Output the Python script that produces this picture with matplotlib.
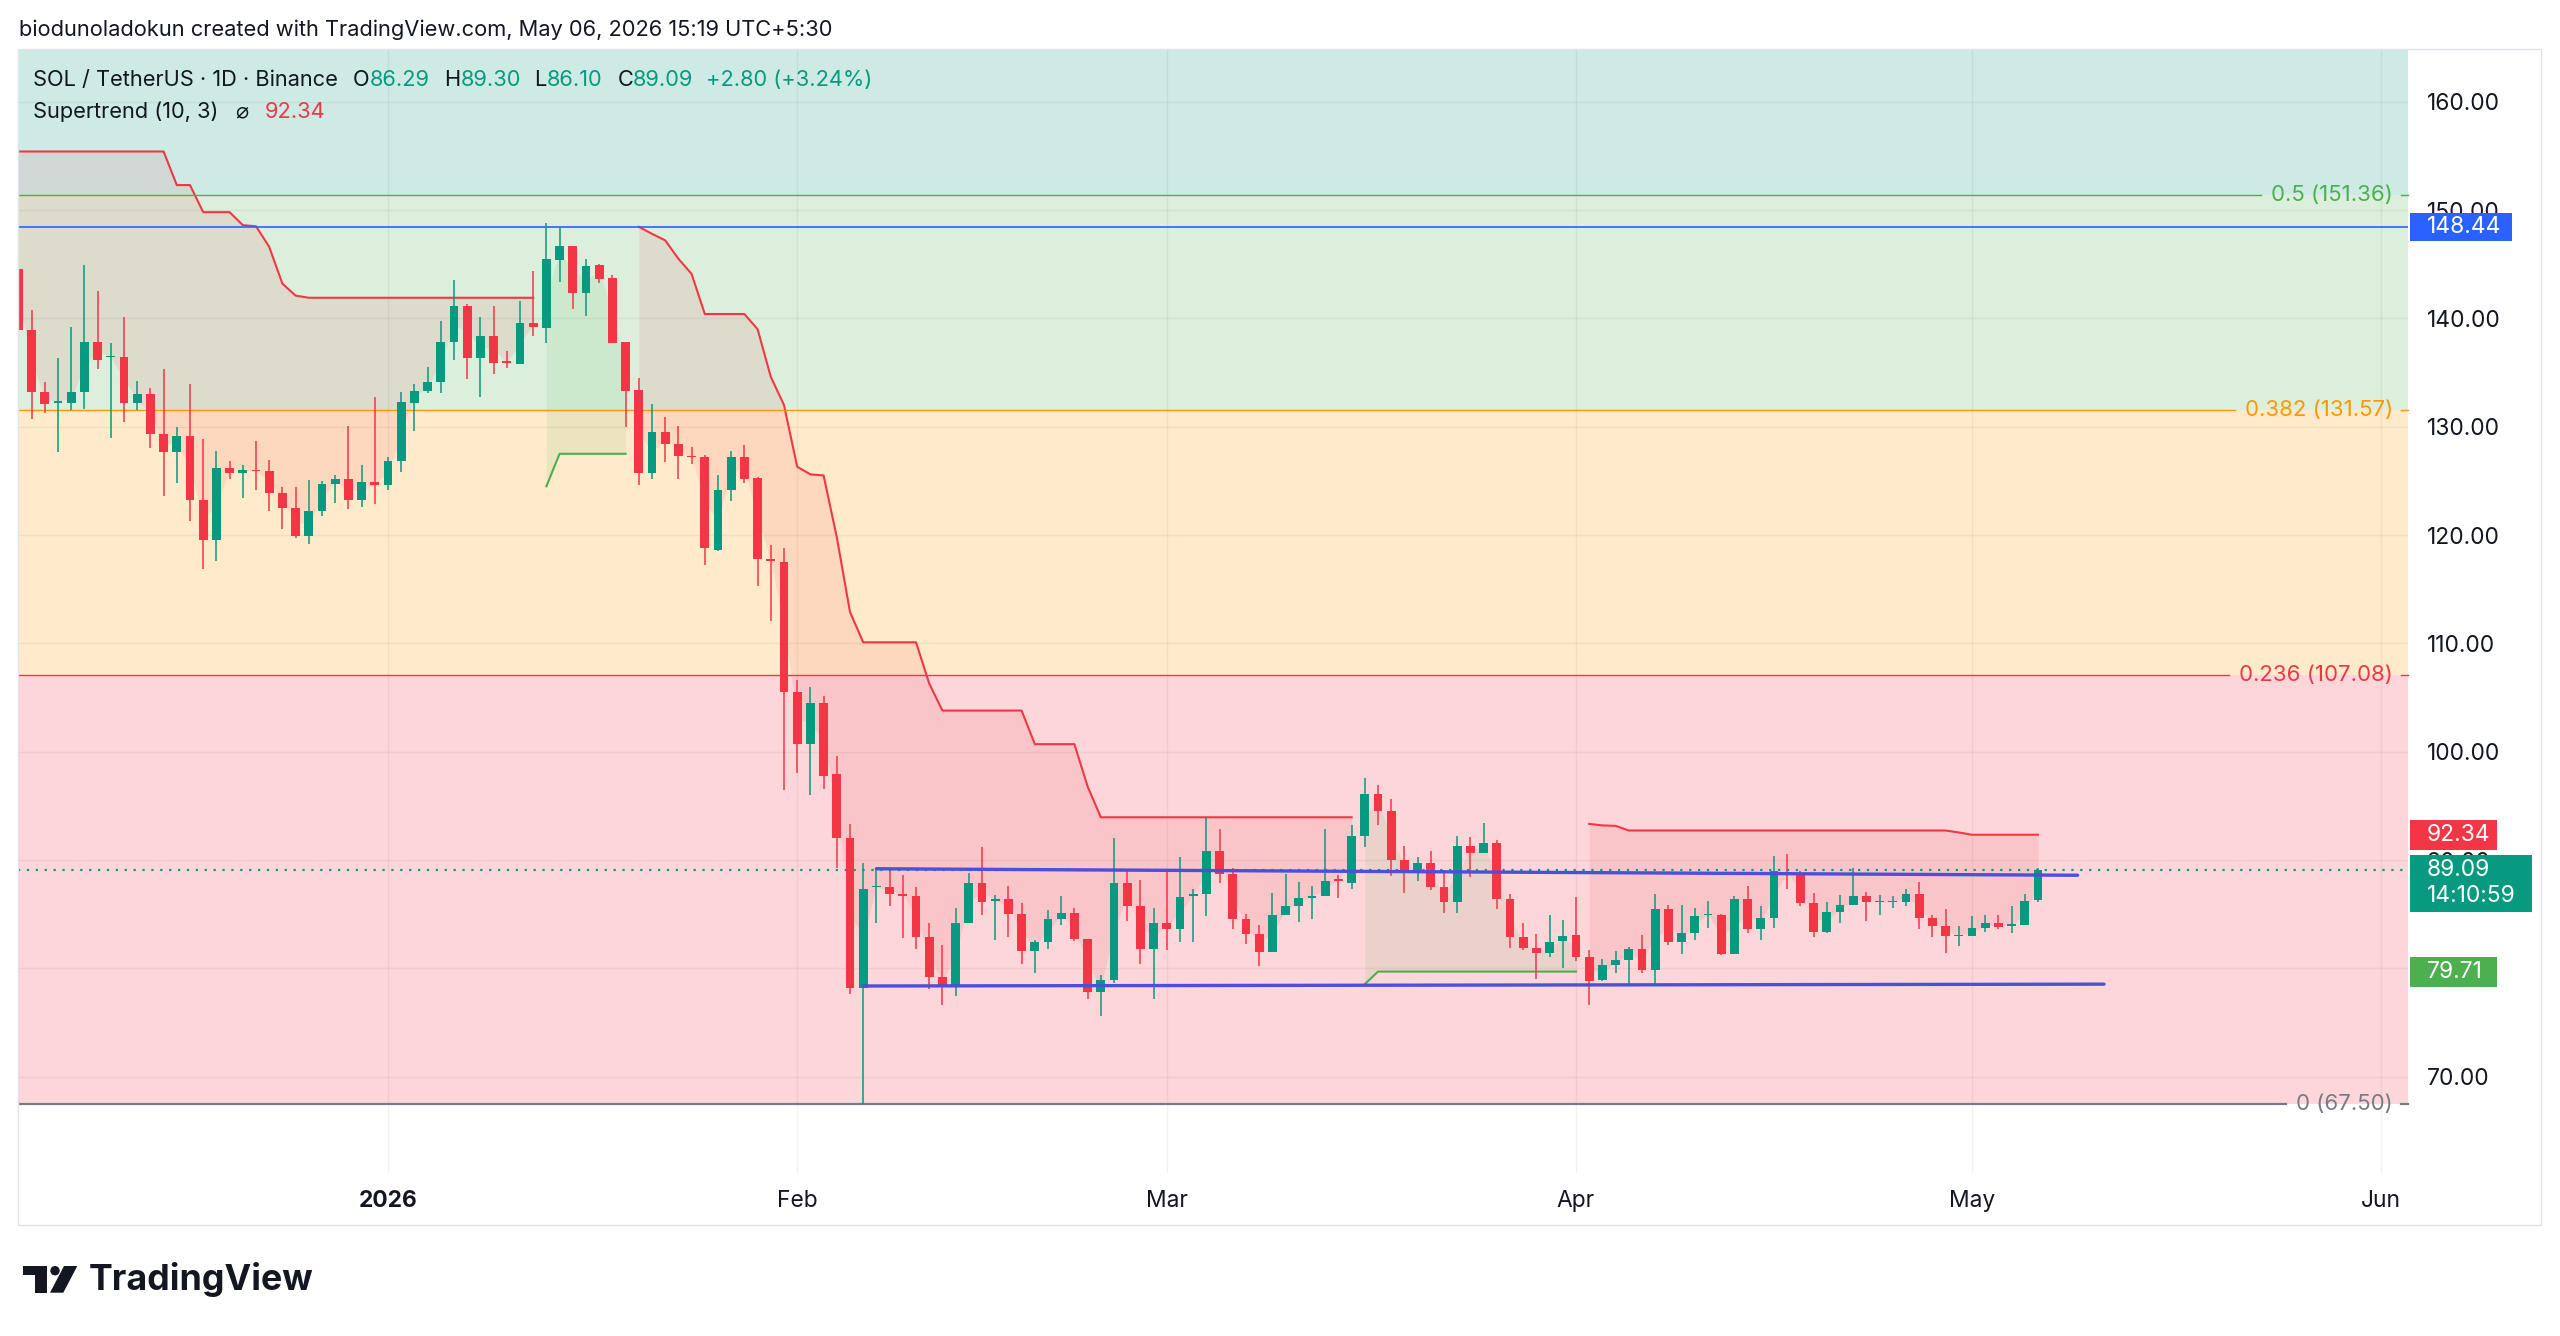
"""
SOL / USDT diario (Binance) con Supertrend (10, 3), retroceso de Fibonacci
y canal lateral: réplica de una captura de TradingView.
"""
import numpy as np
import pandas as pd
import matplotlib
matplotlib.use('Agg')
import matplotlib.pyplot as plt
import matplotlib.dates as mdates
import matplotlib.transforms as mtrans
from matplotlib.patches import Rectangle, Polygon, Circle

plt.rcParams['font.family'] = ['Inter', 'DejaVu Sans']

W, H = 2560, 1336

# ── Velas diarias ─────────────────────────────────────────────
FIRST_DAY = '2025-12-04'
OPEN = [
    144.6, 138.9, 133.2, 132.2, 132.2, 133.2, 137.8, 136.4, 136.4, 132.2,
    133.0, 129.3, 127.7, 129.1, 123.2, 119.5, 126.2, 125.7, 126.0, 125.9,
    123.9, 122.5, 119.9, 122.2, 124.7, 125.2, 123.2, 124.9, 124.6, 126.8,
    132.2, 133.3, 134.1, 137.8, 141.1, 136.3, 138.4, 136.0, 135.8, 139.6,
    139.1, 145.4, 146.7, 142.3, 144.9, 143.7, 137.8, 133.4, 125.7, 129.5,
    128.4, 127.3, 127.2, 118.6, 124.2, 127.2, 125.3, 117.8, 117.5, 105.5,
    100.7, 104.5, 97.9, 92.0, 78.2, 87.5, 87.5, 86.9, 86.7, 82.9,
    79.2, 78.4, 84.2, 87.9, 86.2, 86.4, 85.0, 81.6, 82.4, 84.6,
    85.1, 82.7, 77.8, 78.9, 87.9, 85.8, 81.8, 84.2, 83.6, 86.7,
    86.9, 90.8, 88.7, 84.6, 83.2, 81.5, 84.9, 85.8, 86.5, 86.7,
    88.2, 87.9, 92.2, 96.1, 94.5, 90.0, 88.8, 89.7, 87.5, 86.1,
    91.3, 90.7, 91.6, 86.4, 82.9, 81.9, 81.4, 82.5, 83.1, 81.1,
    78.9, 80.3, 80.8, 81.8, 79.9, 85.5, 82.4, 83.3, 84.9, 84.9,
    81.3, 86.4, 83.6, 84.7, 88.9, 88.8, 86.0, 83.4, 85.2, 85.9,
    86.7, 86.1, 86.1, 86.1, 86.9, 84.7, 83.9, 83.0, 83.0, 83.7,
    84.2, 83.9, 84.0, 86.29,
]
HIGH = [
    146.9, 140.8, 134.1, 136.3, 139.2, 144.9, 142.5, 137.7, 140.1, 134.2,
    133.6, 135.3, 130.0, 133.9, 128.9, 127.8, 126.8, 126.5, 128.7, 126.9,
    124.4, 124.4, 125.1, 125.0, 125.5, 130.1, 126.5, 132.7, 127.2, 133.2,
    133.9, 135.5, 139.8, 143.5, 141.3, 140.1, 141.1, 137.0, 141.6, 144.4,
    148.8, 148.4, 146.7, 145.5, 145.0, 144.0, 137.8, 134.5, 132.1, 130.9,
    130.1, 128.1, 127.4, 125.5, 127.8, 128.3, 125.4, 119.1, 118.8, 106.6,
    106.0, 105.1, 99.6, 93.3, 89.7, 89.3, 89.0, 88.6, 87.5, 84.2,
    82.2, 85.6, 88.8, 91.2, 86.8, 87.6, 86.0, 82.6, 85.4, 86.7,
    85.6, 82.7, 79.4, 92.0, 89.2, 88.2, 85.6, 88.9, 90.3, 87.3,
    93.9, 92.9, 89.3, 85.0, 84.0, 87.0, 88.7, 88.0, 87.6, 92.9,
    88.6, 93.2, 97.6, 96.9, 95.6, 91.3, 90.3, 90.8, 89.1, 92.2,
    92.1, 93.4, 91.9, 86.9, 84.2, 83.2, 84.9, 84.5, 86.6, 81.7,
    80.9, 81.6, 82.0, 83.1, 86.9, 85.9, 85.9, 85.6, 86.2, 85.0,
    86.7, 87.6, 85.8, 90.4, 90.6, 89.0, 87.0, 86.1, 86.8, 89.3,
    87.1, 86.8, 86.7, 87.3, 88.0, 84.9, 85.5, 83.9, 84.8, 84.9,
    84.9, 85.8, 86.9, 89.30,
]
LOW = [
    137.8, 130.7, 131.3, 127.7, 131.5, 131.6, 135.3, 129.0, 130.4, 131.5,
    128.0, 123.6, 124.8, 121.3, 116.9, 117.6, 125.2, 123.4, 124.2, 122.2,
    120.6, 119.7, 119.2, 121.8, 123.0, 122.4, 122.6, 122.9, 124.2, 125.8,
    129.6, 133.1, 133.1, 136.2, 134.4, 132.7, 134.9, 135.4, 135.8, 138.4,
    137.7, 143.4, 140.9, 140.2, 143.3, 137.7, 130.0, 124.6, 125.2, 126.7,
    125.2, 126.6, 117.2, 118.5, 123.1, 124.8, 115.3, 112.1, 96.5, 98.0,
    96.0, 96.6, 89.3, 77.6, 67.5, 84.2, 85.8, 82.8, 81.8, 78.1,
    76.6, 77.5, 84.2, 84.9, 82.6, 82.9, 80.4, 79.6, 81.8, 84.0,
    82.5, 77.2, 75.6, 78.7, 84.4, 80.4, 77.2, 81.7, 82.4, 82.4,
    84.8, 87.9, 83.6, 82.3, 80.2, 81.5, 84.9, 84.3, 84.6, 86.7,
    86.5, 87.3, 91.2, 93.2, 88.5, 87.0, 88.1, 87.2, 85.1, 85.1,
    88.4, 90.7, 85.5, 81.9, 81.7, 79.0, 81.1, 80.0, 80.7, 76.6,
    78.8, 79.6, 78.4, 79.6, 78.4, 82.2, 81.3, 82.6, 83.7, 81.2,
    81.3, 83.3, 82.6, 83.7, 87.3, 85.8, 82.9, 83.3, 84.2, 85.9,
    84.4, 84.9, 85.6, 85.8, 83.6, 82.9, 81.4, 82.1, 83.0, 83.4,
    83.6, 83.3, 84.0, 86.10,
]
CLOSE = [
    138.9, 133.2, 132.1, 132.4, 133.2, 137.8, 136.2, 136.5, 132.2, 133.0,
    129.3, 127.7, 129.1, 123.2, 119.5, 126.2, 125.7, 126.0, 125.9, 123.9,
    122.5, 119.9, 122.2, 124.7, 125.2, 123.2, 124.9, 124.6, 126.8, 132.3,
    133.3, 134.1, 137.8, 141.1, 136.3, 138.4, 135.9, 135.9, 139.6, 139.2,
    145.5, 146.7, 142.3, 144.8, 143.6, 137.7, 133.3, 125.7, 129.5, 128.4,
    127.3, 127.2, 118.8, 124.2, 127.2, 125.2, 117.8, 117.6, 105.5, 100.7,
    104.5, 97.8, 92.0, 78.2, 87.3, 87.6, 86.9, 86.7, 82.9, 79.2,
    78.4, 84.2, 87.9, 86.1, 86.4, 85.0, 81.6, 82.4, 84.6, 85.1,
    82.7, 77.8, 78.9, 87.9, 85.8, 81.8, 84.2, 83.6, 86.6, 86.9,
    90.8, 88.7, 84.6, 83.2, 81.5, 84.9, 85.8, 86.5, 86.7, 88.1,
    88.1, 92.2, 96.1, 94.5, 90.0, 88.8, 89.7, 87.5, 86.1, 91.3,
    90.7, 91.6, 86.4, 82.9, 81.9, 81.4, 82.4, 83.0, 81.1, 78.8,
    80.3, 80.8, 81.8, 79.9, 85.5, 82.4, 83.3, 84.8, 85.0, 81.3,
    86.4, 83.6, 84.7, 89.0, 88.6, 86.0, 83.4, 85.2, 85.9, 86.7,
    86.1, 86.2, 86.2, 86.9, 84.7, 83.9, 83.0, 83.1, 83.7, 84.2,
    83.8, 84.1, 86.2, 89.09,
]

# Supertrend (10, 3) por vela, y tramos de tendencia (índice inicial, final, sentido)
SUPERTREND = [
    155.4, 155.4, 155.4, 155.4, 155.4, 155.4, 155.4, 155.4, 155.4, 155.4,
    155.4, 155.4, 152.3, 152.3, 149.8, 149.8, 149.8, 148.6, 148.5, 146.6,
    143.2, 142.1, 141.9, 141.9, 141.9, 141.9, 141.9, 141.9, 141.9, 141.9,
    141.9, 141.9, 141.9, 141.9, 141.9, 141.9, 141.9, 141.9, 141.9, 141.9,
    124.5, 127.5, 127.5, 127.5, 127.5, 127.5, 127.5, 148.45, 147.8, 147.2,
    145.5, 144.1, 140.4, 140.4, 140.4, 140.4, 139.0, 134.6, 132.0, 126.3,
    125.6, 125.5, 119.8, 112.9, 110.1, 110.1, 110.1, 110.1, 110.1, 106.3,
    103.8, 103.8, 103.8, 103.8, 103.8, 103.8, 103.8, 100.7, 100.7, 100.7,
    100.7, 96.8, 93.95, 93.95, 93.95, 93.95, 93.95, 93.95, 93.95, 93.95,
    93.95, 93.95, 93.95, 93.95, 93.95, 93.95, 93.95, 93.95, 93.95, 93.95,
    93.95, 93.95, 78.55, 79.71, 79.71, 79.71, 79.71, 79.71, 79.71, 79.71,
    79.71, 79.71, 79.71, 79.71, 79.71, 79.71, 79.71, 79.71, 79.71, 93.34,
    93.20, 93.16, 92.73, 92.73, 92.73, 92.73, 92.73, 92.73, 92.73, 92.73,
    92.73, 92.73, 92.73, 92.73, 92.73, 92.73, 92.73, 92.73, 92.73, 92.73,
    92.73, 92.73, 92.73, 92.73, 92.73, 92.73, 92.73, 92.55, 92.34, 92.34,
    92.34, 92.34, 92.34, 92.34,
]
ST_RUNS = [(0, 39, -1), (40, 46, 1), (47, 101, -1), (102, 118, 1), (119, 153, -1)]

# ── Retroceso de Fibonacci ────────────────────────────────────
FIB_RATIOS = ['0', '0.236', '0.382', '0.5']
FIB_PRICES = [67.50, 107.08, 131.57, 151.36]
FIB_COLORS = ['#787b86', '#f23645', '#ff9800', '#4caf50']
BAND_COLORS = ['#f23645', '#ff9800', '#4caf50', '#089981']   # franja sobre cada nivel

# ── Dibujos del usuario y etiquetas de precio ─────────────────
RESISTANCE = 148.44
LAST_PRICE = 89.09
COUNTDOWN = '14:10:59'
ST_LAST = 92.34
ST_UP_LAST = 79.71
CH_TOP_DATES = ['2026-02-07', '2026-05-09']
CH_TOP = [89.20, 88.60]
CH_BOT_DATES = ['2026-02-06', '2026-05-11']
CH_BOT = [78.38, 78.55]

PRICE_TICKS = [70, 80, 90, 100, 110, 120, 130, 140, 150, 160]
HIDDEN_TICKS = [80]          # tapado por la etiqueta 79.71 en la captura
MONTHS = ['2026-01-01', '2026-02-01', '2026-03-01', '2026-04-01', '2026-05-01', '2026-06-01']
MONTH_LABELS = ['2026', 'Feb', 'Mar', 'Apr', 'May', 'Jun']

UP, DN = '#089981', '#f23645'
ST_UP, ST_DN = '#4caf50', '#f23645'
INK = '#131722'

# ── Figura ───────────────────────────────────────────────────
fig = plt.figure(figsize=(W / 100, H / 100), dpi=100)
fig.patch.set_facecolor('white')
rend = fig.canvas.get_renderer()
PX = mtrans.Affine2D().scale(1.0 / W, -1.0 / H).translate(0, 1) + fig.transFigure


def fit(s, px, weight='normal'):
    t = fig.text(0, 0, s, fontsize=20, weight=weight)
    w = t.get_window_extent(rend).width
    t.remove()
    return 20 * px / w


fs_axis = fit('160.00', 73)
fs_head = fit('biodunoladokun created with TradingView.com, May 06, 2026 15:19 UTC+5:30', 816)
fs_leg = fit('Supertrend (10, 3)', 186)
fs_fib = fit('0.382 (131.57)', 148)
fs_logo = fit('TradingView', 225, 'bold')

AX_L, AX_R, AX_T, AX_B = 18, 2408, 49, 1173
ax = fig.add_axes([AX_L / W, 1 - AX_B / H, (AX_R - AX_L) / W, (AX_B - AX_T) / H])
ax.set_facecolor('white')
for s in ax.spines.values():
    s.set_visible(False)

jan1 = mdates.date2num(pd.Timestamp('2026-01-01'))
ax.set_xlim(jan1 - 28.03, jan1 + 153.03)
ax.set_ylim(61.12, 164.86)
ymax = ax.get_ylim()[1]
ppu = (AX_B - AX_T) / (ax.get_ylim()[1] - ax.get_ylim()[0])   # píxeles por dólar

x = mdates.date2num(pd.date_range(FIRST_DAY, periods=len(OPEN), freq='D'))
o, h, l, c = (np.array(v) for v in (OPEN, HIGH, LOW, CLOSE))
st = np.array(SUPERTREND)

# Franjas de Fibonacci
for i, lo in enumerate(FIB_PRICES):
    hi = FIB_PRICES[i + 1] if i + 1 < len(FIB_PRICES) else ymax
    ax.axhspan(lo, hi, color=BAND_COLORS[i], alpha=0.2, lw=0, zorder=0)

# Rejilla y escalas
ax.set_axisbelow(True)
ax.set_yticks(PRICE_TICKS)
ax.set_yticklabels(['' if v in HIDDEN_TICKS else f'{v:.2f}' for v in PRICE_TICKS])
ax.set_xticks(mdates.date2num(pd.to_datetime(MONTHS)))
ax.set_xticklabels(MONTH_LABELS)
ax.grid(True, color='black', alpha=0.05, lw=1)
ax.yaxis.tick_right()
ax.tick_params(axis='y', length=0, pad=13.7, labelsize=fs_axis, labelcolor=INK)
ax.tick_params(axis='x', length=0, pad=12, labelsize=fs_axis, labelcolor=INK)
ax.get_xticklabels()[0].set_fontweight('bold')

# Supertrend: relleno hasta el centro del cuerpo y línea por tramo
mid = (o + c) / 2
for a, b, d in ST_RUNS:
    sl = slice(a, b + 1)
    col = ST_UP if d > 0 else ST_DN
    ax.fill_between(x[sl], st[sl], mid[sl], color=col, alpha=0.1, lw=0, zorder=1)
    ax.plot(x[sl], st[sl], color=col, lw=1.5, zorder=2)

# Velas
cols = np.where(c >= o, UP, DN)
ax.vlines(x, l, h, colors=cols, lw=1.1, zorder=3)
ax.bar(x, np.maximum(np.abs(c - o), 0.12), bottom=np.minimum(o, c), width=0.68,
       color=cols, lw=0, zorder=4)

# Línea de último precio y resistencia
ax.axhline(LAST_PRICE, color=UP, lw=1.6, ls=(0, (1, 3)), zorder=2.5)
ax.axhline(RESISTANCE, color='#2962ff', lw=1.2, zorder=2.5)

# Canal lateral
for dts, ys in ((CH_TOP_DATES, CH_TOP), (CH_BOT_DATES, CH_BOT)):
    ax.plot(mdates.date2num(pd.to_datetime(dts)), ys, color='#4b4fdc', lw=2.4,
            solid_capstyle='round', zorder=5)

# Niveles de Fibonacci con etiqueta a la derecha
BT = mtrans.blended_transform_factory(PX, ax.transData)
for r, p, col in zip(FIB_RATIOS, FIB_PRICES, FIB_COLORS):
    t = ax.text(2393, p, f'{r} ({p:.2f})', transform=BT, ha='right', va='center',
                fontsize=fs_fib, color=col, zorder=6)
    x0 = t.get_window_extent(rend).x0
    lw = 1.6 if r == '0' else 1.0
    ax.plot([AX_L, x0 - 10], [p, p], transform=BT, color=col, lw=lw, zorder=2.6)
    ax.plot([2401, AX_R], [p, p], transform=BT, color=col, lw=lw, zorder=2.6,
            clip_on=False)


# Etiquetas de precio en la escala
def price_tag(price, text, color, right, top_px=14, bot_px=14):
    ax.add_patch(Rectangle((2410, price - bot_px / ppu), right - 2410,
                           (top_px + bot_px) / ppu, transform=BT, color=color,
                           lw=0, clip_on=False, zorder=7))
    ax.text(2427, price, text, transform=BT, ha='left', va='center', color='white',
            fontsize=fs_axis, clip_on=False, zorder=8)


price_tag(RESISTANCE, f'{RESISTANCE:.2f}', '#2962ff', 2512)
price_tag(ST_LAST, f'{ST_LAST:.2f}', '#f23645', 2497, 15, 15)
price_tag(LAST_PRICE, f'{LAST_PRICE:.2f}', UP, 2532, 15, 42)
ax.text(2427, LAST_PRICE - 26 / ppu, COUNTDOWN, transform=BT, ha='left', va='center',
        color='white', fontsize=fs_axis, clip_on=False, zorder=8)
price_tag(ST_UP_LAST, f'{ST_UP_LAST:.2f}', '#4caf50', 2497, 15, 15)

# Marco del gráfico
fig.add_artist(Rectangle((18, 49), 2523, 1176, transform=PX, fill=False,
                         ec='#e0e3eb', lw=1))

# Cabecera y leyenda
fig.text(19, 30, 'biodunoladokun created with TradingView.com, May 06, 2026 15:19 UTC+5:30',
         transform=PX, va='center', fontsize=fs_head, color=INK)


def run(x0, y, parts):
    for s, col in parts:
        t = fig.text(x0, y, s, transform=PX, va='center', fontsize=fs_leg, color=col)
        x0 += t.get_window_extent(rend).width


run(33, 80, [('SOL / TetherUS · 1D · Binance', INK)])
run(352.7, 80, [('O', INK), ('86.29', UP)])
run(444.5, 80, [('H', INK), ('89.30', UP)])
run(534.4, 80, [('L', INK), ('86.10', UP)])
run(617.3, 80, [('C', INK), ('89.09', UP)])
run(706, 80, [('+2.80 (+3.24%)', UP)])
run(33, 111.5, [('Supertrend (10, 3)', INK)])
run(234.7, 111.5, [('⌀', INK)])
run(264.7, 111.5, [(f'{ST_LAST:.2f}', DN)])

# Logotipo de TradingView
fig.add_artist(Polygon([(22.7, 1266), (46.7, 1266), (46.7, 1292.7), (35, 1292.7),
                        (35, 1275), (22.7, 1275)], closed=True, transform=PX,
                       color=INK, lw=0))
fig.add_artist(Circle((55, 1270.7), 4.7, transform=PX, color=INK, lw=0))
fig.add_artist(Polygon([(64, 1266), (77.3, 1266), (63.3, 1292.7), (50, 1292.7)],
                       closed=True, transform=PX, color=INK, lw=0))
fig.text(88.3, 1279.3, 'TradingView', transform=PX, va='center', fontsize=fs_logo,
         weight='bold', color=INK)

fig.savefig('out.png', dpi=100, facecolor='white')
